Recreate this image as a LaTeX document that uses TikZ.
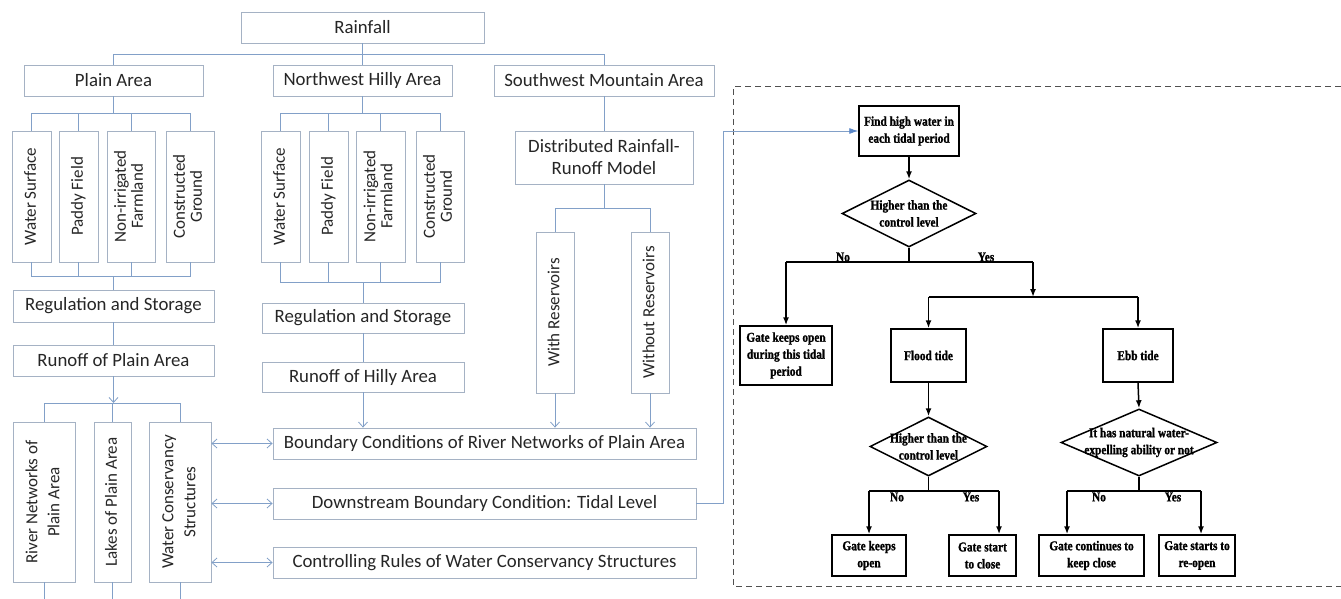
\documentclass[tikz,border=0pt]{standalone}
\usepackage{fontspec}
\usepackage{graphicx}
\setmainfont{Carlito}
\newfontfamily\tnr[FakeStretch=0.84,FakeBold=1.2]{Liberation Serif Bold}
\usetikzlibrary{arrows.meta,shapes.geometric}
\definecolor{boxc}{RGB}{165,178,196}
\definecolor{linec}{RGB}{130,160,200}
\definecolor{linkc}{RGB}{90,135,200}
\definecolor{txtc}{RGB}{38,38,38}
\definecolor{dashc}{RGB}{80,80,80}
\newcommand\rottxt[2][22]{\rotatebox{90}{\fontsize{17}{#1}\selectfont\begin{tabular}{@{}c@{}}#2\end{tabular}}}
\begin{document}
\begin{tikzpicture}[x=1pt,y=-1pt,
 lbox/.style={draw=boxc, line width=0.8pt, fill=white, inner sep=0pt, text=txtc, font=\fontsize{18.8}{22}\selectfont, align=center},
 ln/.style={draw=linec, line width=0.8pt},
 ar/.style={ln, -{Straight Barb[length=5pt,width=9pt]}},
 dar/.style={ln, {Straight Barb[length=5pt,width=9pt]}-{Straight Barb[length=5pt,width=9pt]}},
 link/.style={ln, -{Latex[length=9pt,width=6pt,fill=linkc,color=linkc]}},
 rbox/.style={draw=black, line width=1.5pt, fill=white, inner sep=0pt, align=center, font=\tnr\fontsize{13.5}{17}\selectfont},
 diam/.style={draw=black, line width=1.5pt, diamond, inner sep=0pt},
 dtxt/.style={font=\tnr\fontsize{13.5}{17}\selectfont, align=center, inner sep=0pt},
 fln/.style={draw=black, line width=1.5pt},
 far/.style={fln, -{Latex[length=8pt,width=6pt]}},
 lab/.style={font=\tnr\fontsize{13.5}{14}\selectfont, inner sep=0pt}
]
\useasboundingbox[fill=white] (0,0) rectangle (1341,599);

% ---------- left part ----------
\node[lbox, minimum width=243pt, minimum height=31pt] (rain) at (362.5,27.5) {Rainfall};
\node[lbox, minimum width=179pt, minimum height=31pt] (plain) at (113.5,80.5) {Plain Area};
\node[lbox, minimum width=179pt, minimum height=31pt] (nw) at (362.5,80.5) {Northwest Hilly Area};
\node[lbox, minimum width=220pt, minimum height=31pt] (sw) at (604,80.5) {Southwest Mountain Area};

\node[lbox, minimum width=39pt, minimum height=131pt] (pws) at (31.5,196.5) {\rottxt{Water Surface}};
\node[lbox, minimum width=39pt, minimum height=131pt] (ppf) at (78.5,196.5) {\rottxt{Paddy Field}};
\node[lbox, minimum width=48pt, minimum height=131pt] (pni) at (131,196.5) {\rottxt[17]{Non-irrigated\\Farmland}};
\node[lbox, minimum width=48pt, minimum height=131pt] (pcg) at (190,196.5) {\rottxt[17]{Constructed\\Ground}};

\node[lbox, minimum width=39pt, minimum height=131pt] (hws) at (280.5,196.5) {\rottxt{Water Surface}};
\node[lbox, minimum width=39pt, minimum height=131pt] (hpf) at (328.5,196.5) {\rottxt{Paddy Field}};
\node[lbox, minimum width=49pt, minimum height=131pt] (hni) at (380.5,196.5) {\rottxt[17]{Non-irrigated\\Farmland}};
\node[lbox, minimum width=48pt, minimum height=131pt] (hcg) at (440,196.5) {\rottxt[17]{Constructed\\Ground}};

\node[lbox, minimum width=178pt, minimum height=53pt, font=\fontsize{18.8}{22}\selectfont] (dist) at (604,157.5) {Distributed Rainfall-\\Runoff Model};
\node[lbox, minimum width=38pt, minimum height=161pt] (wr) at (555,312.5) {\rottxt{With Reservoirs}};
\node[lbox, minimum width=38pt, minimum height=161pt] (wor) at (650,312.5) {\rottxt{Without Reservoirs}};

\node[lbox, minimum width=201pt, minimum height=32pt] (preg) at (113.5,306) {Regulation and Storage};
\node[lbox, minimum width=201pt, minimum height=31pt] (prun) at (113.5,360.5) {Runoff of Plain Area};
\node[lbox, minimum width=202pt, minimum height=30pt] (hreg) at (363,318) {Regulation and Storage};
\node[lbox, minimum width=202pt, minimum height=30pt] (hrun) at (363,377) {Runoff of Hilly Area};

\node[lbox, minimum width=62pt, minimum height=160pt] (rn) at (44,502) {\rottxt{River Networks of\\Plain Area}};
\node[lbox, minimum width=37pt, minimum height=160pt] (lk) at (112.5,502) {\rottxt{Lakes of Plain Area}};
\node[lbox, minimum width=62pt, minimum height=160pt] (wc) at (180,502) {\rottxt{Water Conservancy\\Structures}};

\node[lbox, minimum width=423pt, minimum height=31pt] (bnd) at (484.5,443.5) {Boundary Conditions of River Networks of Plain Area};
\node[lbox, minimum width=423pt, minimum height=31pt] (ds) at (484.5,503.5) {Downstream Boundary Condition: Tidal Level};
\node[lbox, minimum width=423pt, minimum height=31pt] (ctrl) at (484.5,562.5) {Controlling Rules of Water Conservancy Structures};

% bus coordinates
\coordinate (topbus) at (0,54);
\coordinate (pbusA) at (0,113);
\coordinate (pbusB) at (0,276);
\coordinate (hbusB) at (0,282);
\coordinate (swbus) at (0,208);
\coordinate (pbusC) at (0,403);
\coordinate (bot) at (0,599);
\coordinate (linkc) at (723,131);

% top level
\draw[ln] (rain.south) -- (nw.north);
\draw[ln] (plain.north) -- (plain.north |- topbus) -- (sw.north |- topbus) -- (sw.north);

% plain group
\draw[ln] (plain.south) -- (plain.south |- pbusA);
\draw[ln] (pws.north) -- (pws.north |- pbusA) -- (pcg.north |- pbusA) -- (pcg.north);
\draw[ln] (ppf.north) -- (ppf.north |- pbusA);
\draw[ln] (pni.north) -- (pni.north |- pbusA);
\draw[ln] (pws.south) -- (pws.south |- pbusB) -- (pcg.south |- pbusB) -- (pcg.south);
\draw[ln] (ppf.south) -- (ppf.south |- pbusB);
\draw[ln] (pni.south) -- (pni.south |- pbusB);
\draw[ln] (preg.north |- pbusB) -- (preg.north);
\draw[ln] (preg.south) -- (prun.north);
\draw[ar] (prun.south) -- (prun.south |- pbusC);
\draw[ln] (rn.north) -- (rn.north |- pbusC) -- (wc.north |- pbusC) -- (wc.north);
\draw[ln] (lk.north) -- (lk.north |- pbusC);
\draw[ln] (rn.south) -- (rn.south |- bot);
\draw[ln] (lk.south) -- (lk.south |- bot);
\draw[ln] (wc.south) -- (wc.south |- bot);

% hilly group
\draw[ln] (nw.south) -- (nw.south |- pbusA);
\draw[ln] (hws.north) -- (hws.north |- pbusA) -- (hcg.north |- pbusA) -- (hcg.north);
\draw[ln] (hpf.north) -- (hpf.north |- pbusA);
\draw[ln] (hni.north) -- (hni.north |- pbusA);
\draw[ln] (hws.south) -- (hws.south |- hbusB) -- (hcg.south |- hbusB) -- (hcg.south);
\draw[ln] (hpf.south) -- (hpf.south |- hbusB);
\draw[ln] (hni.south) -- (hni.south |- hbusB);
\draw[ln] (hreg.north |- hbusB) -- (hreg.north);
\draw[ln] (hreg.south) -- (hrun.north);
\draw[ar] (hrun.south) -- (hrun.south |- bnd.north);

% southwest group
\draw[ln] (sw.south) -- (dist.north);
\draw[ln] (dist.south) -- (dist.south |- swbus);
\draw[ln] (wr.north) -- (wr.north |- swbus) -- (wor.north |- swbus) -- (wor.north);
\draw[ar] (wr.south) -- (wr.south |- bnd.north);
\draw[ar] (wor.south) -- (wor.south |- bnd.north);

% double arrows
\draw[dar] (wc.east |- bnd.west) -- (bnd.west);
\draw[dar] (wc.east |- ds.west) -- (ds.west);
\draw[dar] (wc.east |- ctrl.west) -- (ctrl.west);

% ---------- right part ----------
\draw[dashc, line width=1pt, dash pattern=on 6pt off 4pt] (1341,87) -- (733,87) -- (733,586) -- (1341,586);

\node[rbox, minimum width=100pt, minimum height=50pt] (find) at (909,131) {Find high water in\\each tidal period};
\node[diam, minimum width=134pt, minimum height=67pt, label={[dtxt]center:Higher than the\\control level}] (d1) at (909,213.5) {};
\node[rbox, minimum width=92pt, minimum height=59pt] (gko) at (786,355.5) {Gate keeps open\\during this tidal\\period};
\node[rbox, minimum width=75pt, minimum height=53pt] (flood) at (928.5,355.5) {Flood tide};
\node[rbox, minimum width=70pt, minimum height=53pt] (ebb) at (1138,355.5) {Ebb tide};
\node[diam, minimum width=117pt, minimum height=59pt, label={[dtxt]center:Higher than the\\control level}] (d2) at (928.5,446.5) {};
\node[diam, minimum width=156pt, minimum height=67pt, label={[dtxt]center:It has natural water-\\expelling ability or not}] (d3) at (1139,442.5) {};
\node[rbox, minimum width=74pt, minimum height=41pt] (gk2) at (869,555.5) {Gate keeps\\open};
\node[rbox, minimum width=67pt, minimum height=41pt] (gsc) at (982.5,555.5) {Gate start\\to close};
\node[rbox, minimum width=105pt, minimum height=41pt] (gck) at (1091.5,555.5) {Gate continues to\\keep close};
\node[rbox, minimum width=76pt, minimum height=41pt] (gsr) at (1197,555.5) {Gate starts to\\re-open};

\coordinate (by1) at (0,262);
\coordinate (by2) at (0,297);
\coordinate (by3) at (0,491);
\coordinate (c1) at (1033,262);
\coordinate (c2) at (999,491);
\coordinate (c3) at (1067,491);
\coordinate (c4) at (1201,491);

\draw[far] (find.south) -- (d1.north);
\draw[fln] (d1.south) -- (d1.south |- by1);
\draw[fln] (gko.north |- by1) -- (c1);
\draw[far] (gko.north |- by1) -- (gko.north);
\draw[far] (c1) -- (c1 |- by2);
\draw[fln] (flood.north |- by2) -- (ebb.north |- by2);
\draw[far] (flood.north |- by2) -- (flood.north);
\draw[far] (ebb.north |- by2) -- (ebb.north);

\draw[far] (flood.south) -- (d2.north);
\draw[fln] (d2.south) -- (d2.south |- by3);
\draw[fln] (gk2.north |- by3) -- (c2);
\draw[far] (gk2.north |- by3) -- (gk2.north);
\draw[far] (c2) -- (c2 |- gsc.north);

\draw[far] (ebb.south) -- (d3.north);
\draw[fln] (d3.south) -- (d3.south |- by3);
\draw[fln] (c3) -- (c4);
\draw[far] (c3) -- (c3 |- gck.north);
\draw[far] (c4) -- (c4 |- gsr.north);

\node[lab] (no1) at (843,257) {No};
\node[lab] (yes1) at (986,257) {Yes};
\node[lab] (no2) at (897,497) {No};
\node[lab] (yes2) at (971,497) {Yes};
\node[lab] (no3) at (1099,497) {No};
\node[lab] (yes3) at (1173,497) {Yes};

% link from downstream condition to the flowchart
\draw[link] (ds.east) -| (linkc) -- (find.west);
\end{tikzpicture}
\end{document}
